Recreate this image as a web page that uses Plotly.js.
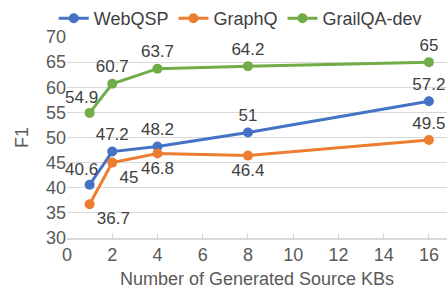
<!DOCTYPE html>
<html><head><meta charset="utf-8">
<script src="https://cdn.plot.ly/plotly-3.0.1.min.js"></script>
<style>html,body{margin:0;padding:0;background:#fff}</style>
</head><body><div id="chart" style="width:448px;height:296px"></div>
<script>
var kbs = [1, 2, 4, 8, 16];
var webqsp = [40.6, 47.2, 48.2, 51, 57.2];
var graphq = [36.7, 45, 46.8, 46.4, 49.5];
var grailqa = [54.9, 60.7, 63.7, 64.2, 65];
var seriesNames = ['WebQSP', 'GraphQ', 'GrailQA-dev'];
var webqspPos = ['tl', 'top center', 'top center', 'top center', 'top center'];
var graphqPos = ['bottom right', 'bottom right', 'bottom center', 'bottom center', 'top center'];
var grailqaPos = ['tl', 'top center', 'top center', 'top center', 'top center'];

var FAM = 'Liberation Sans';
var SZ = 18;
var annotations = [];
function lf() { return {family: FAM, size: 17, color: '#404040'}; }
function tr(y, name, color, pos) {
  var txt = y.map(function (v, i) {
    if (pos[i] === 'tl') {
      annotations.push({x: kbs[i], y: v, xref: 'x', yref: 'y', text: String(v), showarrow: false,
        xshift: -8, yshift: 15, font: lf()});
      return '';
    }
    return String(v);
  });
  return {x: kbs, y: y, name: name, type: 'scatter', mode: 'lines+markers+text',
    line: {color: color, width: 3}, marker: {color: color, size: 10},
    text: txt, textposition: pos.map(function (p) { return p === 'tl' ? 'top center' : p; }),
    textfont: lf(), cliponaxis: false};
}
var data = [
  tr(webqsp, seriesNames[0], '#4472C4', webqspPos),
  tr(graphq, seriesNames[1], '#ED7D31', graphqPos),
  tr(grailqa, seriesNames[2], '#70AD47', grailqaPos)
];
var layout = {
  width: 448, height: 296,
  margin: {l: 67, r: 1, t: 35, b: 58},
  paper_bgcolor: '#fff', plot_bgcolor: '#fff',
  font: {family: FAM, size: SZ, color: '#595959'},
  showlegend: true,
  annotations: annotations,
  legend: {orientation: 'h', xref: 'container', yref: 'container', x: 0.12, y: 1.0, xanchor: 'left', yanchor: 'top',
    font: {family: FAM, size: SZ, color: '#404040'}, itemwidth: 30, tracegroupgap: 0, bgcolor: 'rgba(0,0,0,0)'},
  xaxis: {range: [0, 16.8], tickvals: [0,2,4,6,8,10,12,14,16], showgrid: false, zeroline: false,
    showline: true, linecolor: '#d9d9d9', linewidth: 1.5, ticks: 'inside', ticklen: 5, tickcolor: '#d9d9d9',
    tickfont: {family: FAM, size: SZ, color: '#595959'},
    title: {text: 'Number of Generated Source KBs', font: {family: FAM, size: SZ, color: '#595959'}, standoff: 8}},
  yaxis: {range: [30, 70], dtick: 5, showgrid: true, gridcolor: '#d9d9d9', gridwidth: 1, zeroline: false,
    showline: false, ticks: '', tickfont: {family: FAM, size: SZ, color: '#595959'},
    title: {text: 'F1', font: {family: FAM, size: SZ, color: '#595959'}, standoff: 12}}
};
Plotly.newPlot('chart', data, layout, {displayModeBar: false, staticPlot: true});
</script></body></html>
